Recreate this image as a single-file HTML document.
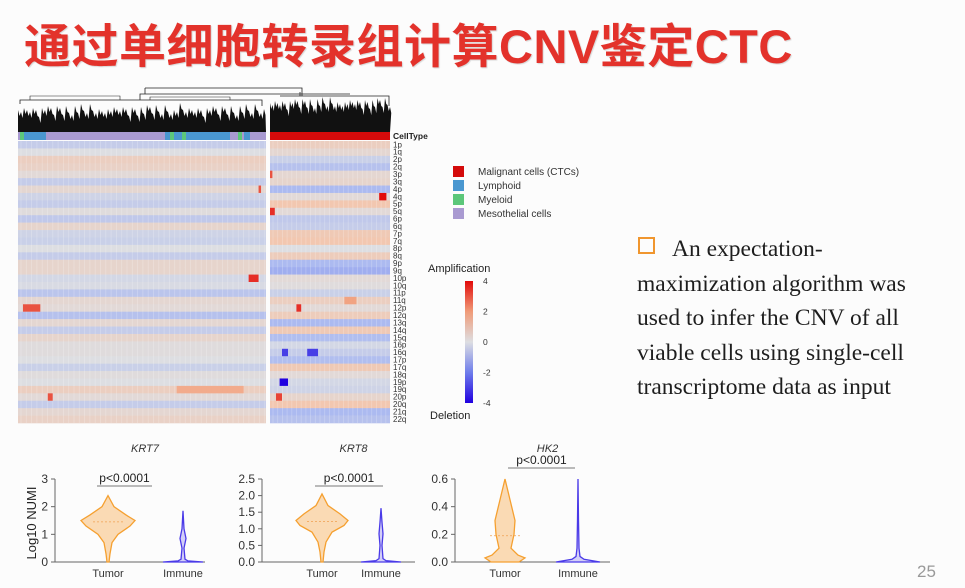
<!DOCTYPE html>
<html><head><meta charset="utf-8"><style>
body{margin:0;width:965px;height:588px;overflow:hidden;background:#fcfcfc;font-family:"Liberation Sans","Noto Sans CJK SC",sans-serif;position:relative}
.t{position:absolute;white-space:nowrap}
</style></head><body>
<div class="t" style="left:24px;top:8px;font-size:47px;font-weight:bold;color:#e3322b;letter-spacing:0.5px;text-shadow:1px 1px 1px rgba(0,0,0,0.15)">通过单细胞转录组计算CNV鉴定CTC</div>
<svg id="hm" width="965" height="588" style="position:absolute;left:0;top:0" font-family="Liberation Sans, sans-serif"></svg>
<div style="position:absolute;left:638px;top:237px;width:13px;height:13px;border:2.5px solid #f0962e"></div>
<div style="position:absolute;left:637px;top:232px;font-family:'Liberation Serif',serif;font-size:23.5px;line-height:34.5px;color:#1e1e1e;white-space:nowrap"><span style="padding-left:35px">An expectation-</span><br>maximization algorithm was<br>used to infer the CNV of all<br>viable cells using single-cell<br>transcriptome data as input</div>
<div class="t" style="left:917px;top:562px;font-size:17px;color:#999">25</div>
<script>
const rowLabels=["1p","1q","2p","2q","3p","3q","4p","4q","5p","5q","6p","6q","7p","7q","8p","8q","9p","9q","10p","10q","11p","11q","12p","12q","13q","14q","15q","16p","16q","17p","17q","18q","19p","19q","20p","20q","21q","22q"];
const leftVals=[-0.5,0,0.6,0.5,0.2,-0.5,0.3,-0.3,-0.5,0.1,-0.6,0.4,-0.3,-0.4,0,-0.5,0.4,0.4,-0.2,-0.1,-0.7,0.3,0.2,-0.8,0.3,-0.5,0.4,0.1,0.1,0,-0.4,0.1,0,0.6,0.2,-0.5,0.3,0.5];
const rightVals=[0.6,0.3,-0.4,-0.8,0.3,0.4,-1.0,0.2,0.9,0.2,-0.6,-0.5,0.8,0.9,0,0.7,-1.0,-1.2,0.2,0.1,-0.4,0.6,0.2,0.7,-1.0,0.8,-0.9,-0.2,-0.5,-0.9,0.8,0.2,-0.2,-0.3,0.4,0.9,-1.0,-0.8];
const spotBlock=["L","L","L","L","L","R","R","R","R","R","R","R","R","R"];
const spotRow=[18,22,34,33,6,7,9,32,28,28,22,34,21,4];
const spotStart=[0.93,0.02,0.12,0.64,0.97,0.91,0.0,0.08,0.1,0.31,0.22,0.05,0.62,0.0];
const spotWidth=[0.04,0.07,0.02,0.27,0.01,0.06,0.04,0.07,0.05,0.09,0.04,0.05,0.1,0.02];
const spotVal=[3.5,3,3,1.6,3,4,3.5,-4,-3,-3,3.5,3.2,1.8,3];
const legendNames=["Malignant cells (CTCs)","Lymphoid","Myeloid","Mesothelial cells"];
const legendColors=["#d40b0b","#4a97d0","#5cc77a","#a99ad1"];
const cbTicks=[4,2,0,-2,-4];

const NS="http://www.w3.org/2000/svg";
const svg=document.getElementById('hm');
function el(t,a,p){const e=document.createElementNS(NS,t);for(const k in a)e.setAttribute(k,a[k]);(p||svg).appendChild(e);return e;}
function lerp(a,b,t){return a.map((v,i)=>Math.round(v+(b[i]-v)*t));}
const stops=[[-4,[32,0,224]],[-2,[110,125,235]],[-1,[172,186,240]],[0,[221,222,226]],[1,[244,196,170]],[2,[240,155,120]],[4,[226,10,10]]];
function col(v){v=Math.max(-4,Math.min(4,v));
for(let i=0;i<stops.length-1;i++){if(v<=stops[i+1][0]){const c=lerp(stops[i][1],stops[i+1][1],(v-stops[i][0])/(stops[i+1][0]-stops[i][0]));return `rgb(${c})`;}}return 'rgb(226,10,10)';}
const L={x0:18,x1:266},R={x0:270,x1:390};
const hTop=141,hBot=423,rh=(hBot-hTop)/rowLabels.length;
function yR(i){return hTop+i*rh;}
rowLabels.forEach((lab,i)=>{
 let r=el('rect',{x:L.x0,y:yR(i),width:L.x1-L.x0,height:rh+0.3,fill:col(leftVals[i])});
 
 
 r=el('rect',{x:R.x0,y:yR(i),width:R.x1-R.x0,height:rh+0.3,fill:col(rightVals[i])});
 
 
 const t=el('text',{x:393,y:yR(i)+rh*0.85,'font-size':8,fill:'#333'});t.textContent=lab;
 
 
});
for(let x=L.x0+3;x<L.x1;x+=5.3){el('line',{x1:x,y1:hTop,x2:x,y2:hBot,stroke:'rgba(255,255,255,0.25)','stroke-width':0.8});}
for(let x=R.x0+3;x<R.x1;x+=4.7){el('line',{x1:x,y1:hTop,x2:x,y2:hBot,stroke:'rgba(255,255,255,0.25)','stroke-width':0.8});}
spotBlock.forEach((b,k)=>{const B=b==="L"?L:R;const w=B.x1-B.x0;
 const r=el('rect',{x:B.x0+spotStart[k]*w,y:yR(spotRow[k]),width:Math.max(2,spotWidth[k]*w),height:rh,fill:col(spotVal[k])});
 
 
});
el('rect',{x:L.x0,y:132,width:L.x1-L.x0,height:8,fill:'#a99ad1'});
[[20,30,'#5cc77a'],[24,46,'#4a97d0'],[165,230,'#4a97d0'],[170,174,'#5cc77a'],[182,186,'#5cc77a'],[238,242,'#5cc77a'],[244,250,'#4a97d0']].forEach(s=>el('rect',{x:s[0],y:132,width:s[1]-s[0],height:8,fill:s[2]}));
el('rect',{x:R.x0,y:132,width:R.x1-R.x0,height:8,fill:'#d40b0b'});
let ct=el('text',{x:393,y:139,'font-size':8.5,'font-weight':'bold',fill:'#222'});ct.textContent='CellType';
function jag(x0,x1,yb,ytop,step){let d=`M${x0},${yb}`;let k=0;for(let x=x0;x<=x1;x+=step){k++;const h=ytop+((k*37)%11)+((k*13)%5);d+=` L${x},${h} L${x+step/2},${h+6}`;}d+=` L${x1},${yb} Z`;return d;}
el('path',{d:jag(L.x0,L.x1,132,103,3),fill:'#111'});
el('path',{d:jag(R.x0,R.x1,132,96,2.5),fill:'#111'});
el('path',{d:`M${L.x0+2},104 V100 H${L.x1-4} V106 M140,100 V94 H350 M145,88 V94 M145,88 H302 V96 M280,96 H389 V106 M300,92 V96`,fill:'none',stroke:'#222','stroke-width':0.8});
el('path',{d:'M30,100 V96 H120 V100 M150,100 V97 H230 V100',fill:'none',stroke:'#222','stroke-width':0.6});
legendNames.forEach((n,i)=>{const y=166+i*14;
 const r=el('rect',{x:453,y:y,width:11,height:11,fill:legendColors[i]});
 
 
 const t=el('text',{x:478,y:y+9,'font-size':10,fill:'#333'});t.textContent=n;
 
 
});
const g=el('linearGradient',{id:'cb',x1:0,y1:0,x2:0,y2:1},el('defs',{}));
[[0,4],[0.25,2],[0.5,0],[0.75,-2],[1,-4]].forEach(s=>el('stop',{offset:s[0],'stop-color':col(s[1])},g));
const cbTop=281,cbBot=403;
el('rect',{x:465,y:cbTop,width:8,height:cbBot-cbTop,fill:'url(#cb)'});
cbTicks.forEach(v=>{const y=cbTop+(4-v)/8*(cbBot-cbTop);const t=el('text',{x:483,y:y+3,'font-size':8.5,fill:'#333'});t.textContent=v;});
let a=el('text',{x:428,y:272,'font-size':11,fill:'#222'});a.textContent='Amplification';

a=el('text',{x:430,y:419,'font-size':11,fill:'#222'});a.textContent='Deletion';
</script>
<svg id="vio" width="965" height="588" style="position:absolute;left:0;top:0" font-family="Liberation Sans, sans-serif"></svg>
<script>
const genes=["KRT7","KRT8","HK2"];
const yMaxs=[3,2.5,0.6];
const yTicks=[[0,1,2,3],[0,0.5,1,1.5,2,2.5],[0,0.2,0.4,0.6]];
const tickText=[["0","1","2","3"],["0.0","0.5","1.0","1.5","2.0","2.5"],["0.0","0.2","0.4","0.6"]];
const tumorLevels=[[0,0.3,0.7,1.0,1.3,1.5,1.7,2.0,2.4],[0,0.3,0.6,0.9,1.1,1.25,1.45,1.7,2.05],[0,0.03,0.05,0.1,0.2,0.3,0.45,0.6]];
const tumorWidths=[[1,2,4,10,22,27,18,6,0],[1,2,4,10,22,26,18,6,0],[14,20,13,6,9,10,5,0]];
const immuneLevels=[[0,0.04,0.1,0.5,0.85,1.2,1.85],[0,0.04,0.1,0.5,0.85,1.2,1.62],[0,0.02,0.04,0.1,0.3,0.6]];
const immuneWidths=[[20,5,2,1,3,1,0],[20,5,2,1,2,1,0],[22,6,2,1,0.5,0]];
const tumorMedians=[1.45,1.22,0.19];
const axisX=[55,262,455],panelW=[150,153,155],tumorX=[108,322,505],immuneX=[183,381,578];
const pY=[486,486,468],pX0=[97,315,508],pX1=[152,383,575];
const y0=562,yTopPx=479;
const NS2="http://www.w3.org/2000/svg",vs=document.getElementById('vio');
function ve(t,a){const e=document.createElementNS(NS2,t);for(const k in a)e.setAttribute(k,a[k]);vs.appendChild(e);return e;}
function violin(cx,lev,wid,sy,stroke,fill){let r='',l='';lev.forEach((v,i)=>{r+=(i?' L':'M')+(cx+wid[i])+','+sy(v);});
 for(let i=lev.length-1;i>=0;i--)l+=' L'+(cx-wid[i])+','+sy(lev[i]);
 return ve('path',{d:r+l+' Z',fill:fill,stroke:stroke,'stroke-width':1.3});}
genes.forEach((gname,p)=>{
 const sy=v=>y0-v/yMaxs[p]*(y0-yTopPx);
 const ax=axisX[p];
 ve('path',{d:`M${ax},${yTopPx} V${y0} H${ax+panelW[p]}`,fill:'none',stroke:'#666','stroke-width':1});
 yTicks[p].forEach((v,i)=>{ve('line',{x1:ax-4,y1:sy(v),x2:ax,y2:sy(v),stroke:'#666'});
  const t=ve('text',{x:ax-7,y:sy(v)+4,'font-size':12,'text-anchor':'end',fill:'#333'});t.textContent=tickText[p][i];});
 let t=ve('text',{x:ax+panelW[p]/2+15,y:452,'font-size':11,'font-style':'italic','text-anchor':'middle',fill:'#333'});t.textContent=gname;
 
 const v1=violin(tumorX[p],tumorLevels[p],tumorWidths[p],sy,'#f5a030','rgba(248,190,120,0.55)');
 
 ve('line',{x1:tumorX[p]-15,y1:sy(tumorMedians[p]),x2:tumorX[p]+15,y2:sy(tumorMedians[p]),stroke:'#f0a050','stroke-dasharray':'2,2','stroke-width':0.8});
 const v2=violin(immuneX[p],immuneLevels[p],immuneWidths[p],sy,'#4a3ae8','rgba(150,140,240,0.4)');
 
 ve('line',{x1:pX0[p],y1:pY[p],x2:pX1[p],y2:pY[p],stroke:'#777'});
 t=ve('text',{x:(pX0[p]+pX1[p])/2,y:pY[p]-4,'font-size':12,'text-anchor':'middle',fill:'#222'});t.textContent='p<0.0001';
 t=ve('text',{x:tumorX[p],y:577,'font-size':11,'text-anchor':'middle',fill:'#333'});t.textContent='Tumor';
 t=ve('text',{x:immuneX[p],y:577,'font-size':11,'text-anchor':'middle',fill:'#333'});t.textContent='Immune';
});
const yl=ve('text',{x:0,y:0,'font-size':13,'text-anchor':'middle',fill:'#222',transform:'translate(36,523) rotate(-90)'});yl.textContent='Log10 NUMI';

</script>
</body></html>
